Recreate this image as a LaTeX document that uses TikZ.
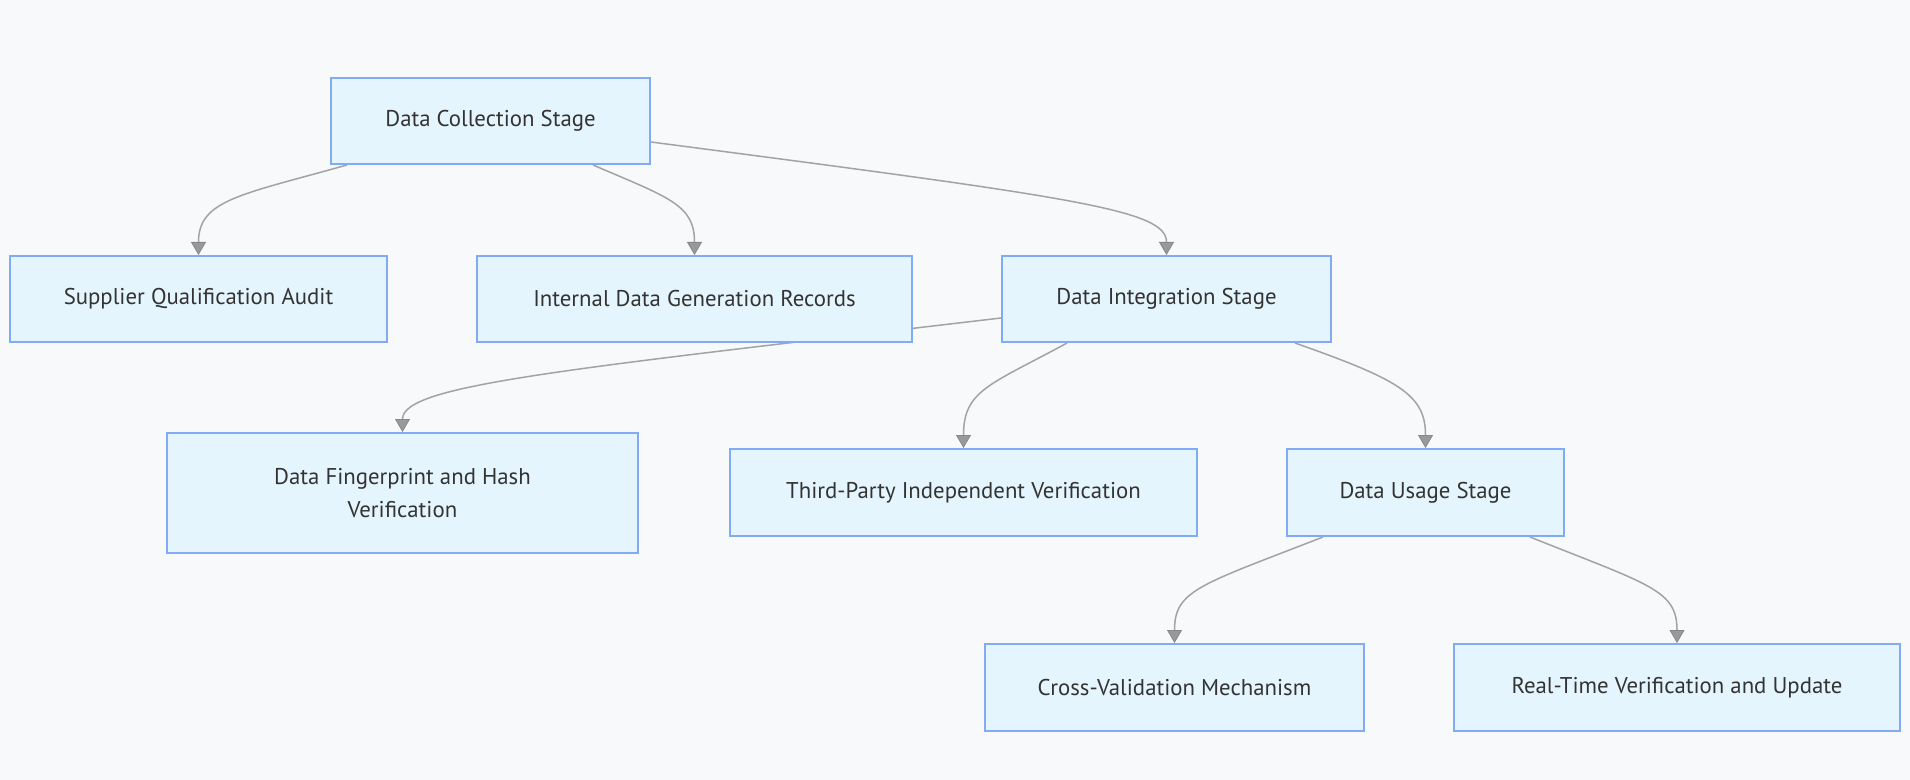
\documentclass[tikz,border=0pt]{standalone}
\usepackage{fontspec}
\setmainfont{PT Sans}
\usetikzlibrary{arrows.meta}
\pgfdeclarelayer{background}
\pgfsetlayers{background,main}
\definecolor{bg}{HTML}{F8F9FB}
\definecolor{boxfill}{HTML}{E5F5FE}
\definecolor{boxline}{HTML}{82ABF5}
\definecolor{edgecol}{HTML}{A3A3A3}
\definecolor{tipcol}{HTML}{999999}
\definecolor{tipline}{HTML}{888888}
\definecolor{txt}{HTML}{333333}
\tikzset{
  box/.style={draw=boxline, fill=boxfill, line width=1pt, text=txt,
    font=\fontsize{11.4}{16.5}\selectfont, align=center, inner sep=0pt},
  edge/.style={draw=edgecol, line width=0.75pt,
    -{Triangle[width=7.5pt,length=6.5pt,fill=tipcol,color=tipline,line width=0.4pt]}}
}
\begin{document}
\begin{tikzpicture}[x=0.5pt,y=-0.5pt]
\useasboundingbox (0,0) rectangle (1910,780);
\node[box, minimum width=159.5pt, minimum height=43pt] (coll) at (490.5,121) {Data Collection Stage};
\node[box, minimum width=188.5pt, minimum height=43pt] (supp) at (198.5,299) {Supplier Qualification Audit};
\node[box, minimum width=217.5pt, minimum height=43pt] (int) at (694.5,299) {Internal Data Generation Records};
\node[box, minimum width=164.5pt, minimum height=43pt] (intg) at (1166.5,299) {Data Integration Stage};
\node[box, minimum width=235.5pt, minimum height=60pt] (fp) at (402.5,493) {Data Fingerprint and Hash\\Verification};
\node[box, minimum width=233.5pt, minimum height=43.5pt] (tp) at (963.5,492.5) {Third-Party Independent Verification};
\node[box, minimum width=138.5pt, minimum height=43.5pt] (use) at (1425.5,492.5) {Data Usage Stage};
\node[box, minimum width=189.5pt, minimum height=43.5pt] (cross) at (1174.5,687.5) {Cross-Validation Mechanism};
\node[box, minimum width=223pt, minimum height=43.5pt] (real) at (1677,687.5) {Real-Time Verification and Update};
\begin{pgfonlayer}{background}
\fill[bg] (0,0) rectangle (1910,780);
\draw[edge] ([xshift=-71.75pt]coll.south) .. controls (240,195) and (198.5,200) .. (supp.north);
\draw[edge] ([xshift=51.25pt]coll.south) .. controls (670,198) and (694.5,205) .. (int.north);
\draw[edge] ([yshift=-10.5pt]coll.east) .. controls (1080,198) and (1166.5,210) .. (intg.north);
\draw[edge] ([yshift=-9.5pt]intg.west) .. controls (560,370) and (402.5,385) .. (fp.north);
\draw[edge] ([xshift=-49.75pt]intg.south) .. controls (990,385) and (963.5,390) .. (tp.north);
\draw[edge] ([xshift=64.25pt]intg.south) .. controls (1400,380) and (1425.5,395) .. (use.north);
\draw[edge] ([xshift=-51.25pt]use.south) .. controls (1200,585) and (1174.5,590) .. (cross.north);
\draw[edge] ([xshift=52.25pt]use.south) .. controls (1650,585) and (1677,590) .. (real.north);
\end{pgfonlayer}
\end{tikzpicture}
\end{document}
